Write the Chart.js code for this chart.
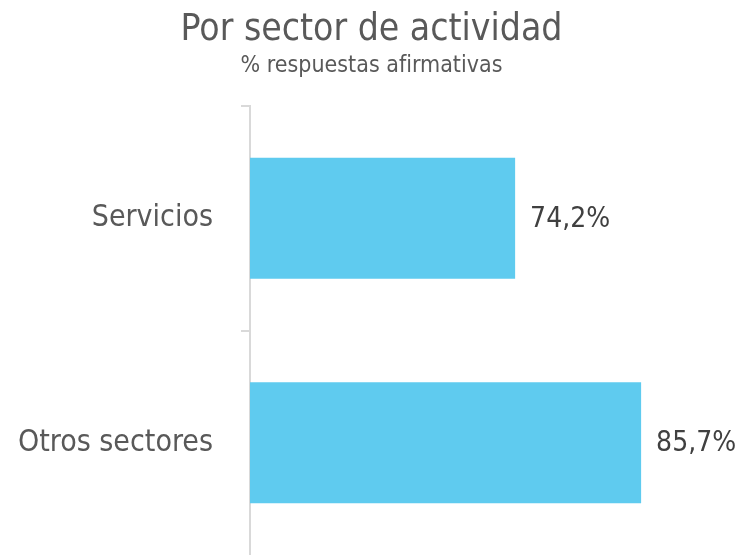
<!DOCTYPE html>
<html lang="es">
<head>
<meta charset="utf-8">
<title>Por sector de actividad</title>
<script src="https://cdn.jsdelivr.net/npm/chart.js@4/dist/chart.umd.min.js"></script>
<style>
  html, body { margin: 0; padding: 0; background: #ffffff; overflow: hidden; }
  canvas { display: block; }
</style>
</head>
<body>
<canvas id="myChart" width="746" height="555"></canvas>
<script>
var sectores = ['Servicios', 'Otros sectores'];
var afirmativas = [74.2, 85.7];

var FONT = "'DejaVu Sans Condensed', 'DejaVu Sans', sans-serif";

// etiqueta con el porcentaje a la derecha de cada barra
var valueLabels = {
    id: 'valueLabels',
    afterDatasetsDraw: function (chart) {
        var ctx = chart.ctx;
        var meta = chart.getDatasetMeta(0);
        ctx.save();
        ctx.font = '28px ' + FONT;
        ctx.fillStyle = '#404040';
        ctx.textAlign = 'left';
        ctx.textBaseline = 'middle';
        meta.data.forEach(function (bar, i) {
            var txt = afirmativas[i].toFixed(1).replace('.', ',') + '%';
            ctx.fillText(txt, bar.x + 15, bar.y + 1);
        });
        ctx.restore();
    }
};

document.addEventListener('DOMContentLoaded', function () {
    var ctx = document.getElementById('myChart').getContext('2d');

    new Chart(ctx, {
        type: 'bar',
        data: {
            labels: sectores,
            datasets: [{
                label: '% respuestas afirmativas',
                data: afirmativas,
                backgroundColor: '#5FCBEF',
                borderWidth: 0,
                barPercentage: 0.54,
                categoryPercentage: 1
            }]
        },
        options: {
            indexAxis: 'y',
            responsive: false,
            animation: false,
            layout: {
                padding: { left: 0, right: 3, top: 0, bottom: 0 }
            },
            scales: {
                x: {
                    display: false,
                    min: 50,
                    max: 95
                },
                y: {
                    afterFit: function (scale) {
                        // ancho fijo del eje y sin margen extra arriba/abajo
                        scale.width = 250;
                        scale.paddingTop = 0;
                        scale.paddingBottom = 0;
                    },
                    border: {
                        display: true,
                        color: '#d9d9d9',
                        width: 2
                    },
                    grid: {
                        display: true,
                        drawOnChartArea: false,
                        drawTicks: true,
                        offset: true,
                        tickLength: 9,
                        // sin marca en el extremo inferior del eje
                        color: function (context) {
                            return context.tick === undefined ? 'rgba(0,0,0,0)' : '#d9d9d9';
                        },
                        lineWidth: 2
                    },
                    ticks: {
                        padding: 28,
                        color: '#595959',
                        font: { family: FONT, size: 30 }
                    }
                }
            },
            plugins: {
                legend: { display: false },
                tooltip: { enabled: false },
                title: {
                    display: true,
                    text: 'Por sector de actividad',
                    color: '#595959',
                    font: { family: FONT, size: 37, weight: 'normal' },
                    padding: { top: 8, bottom: 0 }
                },
                subtitle: {
                    display: true,
                    text: '% respuestas afirmativas',
                    color: '#595959',
                    font: { family: FONT, size: 23, weight: 'normal' },
                    padding: { top: 0, bottom: 26 }
                }
            }
        },
        plugins: [valueLabels]
    });
});
</script>
</body>
</html>
